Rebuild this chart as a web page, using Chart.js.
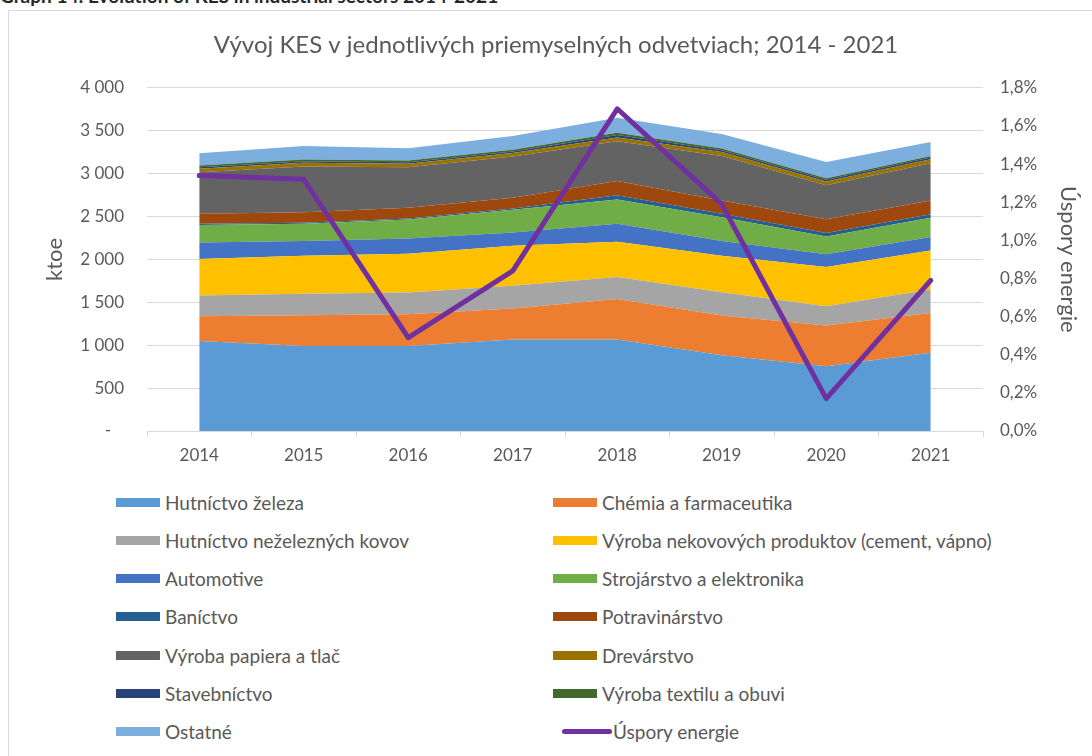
<!DOCTYPE html>
<html>
<head>
<meta charset="utf-8">
<script src="https://cdn.jsdelivr.net/npm/chart.js@4.4.0/dist/chart.umd.min.js"></script>
<style>
  html, body { margin: 0; padding: 0; background: #fff; overflow: hidden; width: 1092px; height: 756px; }
  #caption { position: absolute; left: 0; top: -16px; font: bold 19px Lato, sans-serif; color: #262626; white-space: nowrap; }
  #frame { position: absolute; left: 8px; top: 10px; width: 1200px; height: 900px; border: 1px solid #d9d9d9; }
  #chart { position: absolute; left: 0; top: 0; }
  .item { position: absolute; height: 22px; display: flex; align-items: center; font: 19px Lato, sans-serif; color: #595959; white-space: nowrap; }
  .sw { width: 44px; height: 9px; margin-right: 5px; }
  .ln { width: 50px; height: 5px; border-radius: 3px; margin-right: 1px; }
</style>
</head>
<body>
<div id="caption">Graph 14: Evolution of KES in industrial sectors 2014-2021</div>
<div id="frame"></div>
<canvas id="chart" width="1112" height="480"></canvas>
<div id="legend"></div>
<script>
// -------------------- DATA --------------------
const years = ["2014", "2015", "2016", "2017", "2018", "2019", "2020", "2021"];

const hutnictvoZeleza = [1050, 992, 992, 1066, 1066, 884, 756, 911];
const chemia = [287, 357, 369, 361, 473, 461, 473, 465];
const hutnictvoNezelezne = [241, 252, 252, 267, 256, 272, 225, 272];
const nekovoveProdukty = [426, 442, 453, 466, 411, 426, 457, 457];
const automotive = [194, 170, 179, 154, 209, 170, 148, 155];
const strojarstvo = [202, 202, 221, 264, 283, 279, 209, 225];
const banictvo = [15, 12, 12, 15, 50, 40, 40, 42];
const potravinarstvo = [117, 123, 123, 125, 167, 154, 161, 159];
const papier = [484, 532, 473, 480, 461, 520, 395, 434];
const drevarstvo = [40, 45, 40, 42, 46, 45, 45, 47];
const stavebnictvo = [18, 18, 18, 18, 28, 22, 20, 20];
const textil = [20, 20, 20, 20, 25, 20, 18, 18];
const ostatne = [143, 157, 143, 161, 175, 169, 189, 164];

// Úspory energie, in %
const uspory = [1.34, 1.32, 0.49, 0.84, 1.69, 1.19, 0.17, 0.79];

const sectors = [
  ["Hutníctvo železa", hutnictvoZeleza, "#5B9BD5"],
  ["Chémia a farmaceutika", chemia, "#ED7D31"],
  ["Hutníctvo neželezných kovov", hutnictvoNezelezne, "#A5A5A5"],
  ["Výroba nekovových produktov (cement, vápno)", nekovoveProdukty, "#FFC000"],
  ["Automotive", automotive, "#4472C4"],
  ["Strojárstvo a elektronika", strojarstvo, "#70AD47"],
  ["Baníctvo", banictvo, "#255E91"],
  ["Potravinárstvo", potravinarstvo, "#9E480E"],
  ["Výroba papiera a tlač", papier, "#636363"],
  ["Drevárstvo", drevarstvo, "#997300"],
  ["Stavebníctvo", stavebnictvo, "#264478"],
  ["Výroba textilu a obuvi", textil, "#43682B"],
  ["Ostatné", ostatne, "#7CAFDD"]
];

const FONT = "Lato, sans-serif";
const GREY = "#595959";
const GRID = "#d9d9d9";

// -------------------- CHART --------------------
const datasets = sectors.map(([label, values, color], i) => ({
  label: label,
  data: values,
  backgroundColor: color,
  borderColor: color,
  borderWidth: 0,
  pointRadius: 0,
  fill: i === 0 ? "origin" : "-1",
  yAxisID: "y"
}));

datasets.push({
  label: "Úspory energie",
  data: uspory,
  borderColor: "#7030A0",
  backgroundColor: "#7030A0",
  borderWidth: 5,
  borderCapStyle: "round",
  borderJoinStyle: "round",
  pointRadius: 0,
  fill: false,
  tension: 0,
  yAxisID: "y1",
  order: -1
});

const chart = new Chart(document.getElementById("chart"), {
  type: "line",
  data: { labels: years, datasets: datasets },
  options: {
    responsive: false,
    animation: false,
    layout: { padding: 0 },
    plugins: {
      legend: { display: false },
      tooltip: { enabled: false },
      title: {
        display: true,
        text: "Vývoj KES v jednotlivých priemyselných odvetviach; 2014 - 2021",
        color: GREY,
        font: { family: FONT, size: 24, weight: "normal" },
        padding: { top: 31, bottom: 28 }
      }
    },
    scales: {
      x: {
        offset: true,
        grid: { drawOnChartArea: false, offset: true, tickLength: 6, color: GRID },
        border: { color: GRID },
        ticks: { color: GREY, font: { family: FONT, size: 17 }, padding: 8 },
        afterFit: s => { s.height = 49; }
      },
      y: {
        stacked: true,
        min: 0,
        max: 4000,
        ticks: {
          stepSize: 500,
          color: GREY,
          padding: 23,
          font: { family: FONT, size: 17 },
          callback: v => v === 0 ? "-   " : String(v).replace(/\B(?=(\d{3})+(?!\d))/g, " ")
        },
        grid: { color: GRID, drawTicks: false },
        border: { display: false },
        title: { display: true, text: "ktoe", color: GREY, font: { family: FONT, size: 22 }, padding: { top: 42 } },
        afterFit: s => { s.width = 147; }
      },
      y1: {
        position: "right",
        min: 0,
        max: 1.8,
        ticks: {
          stepSize: 0.2,
          color: GREY,
          padding: 17,
          font: { family: FONT, size: 17 },
          callback: v => v.toFixed(1).replace(".", ",") + "%"
        },
        grid: { drawOnChartArea: false, drawTicks: false },
        border: { display: false },
        title: { display: true, text: "Úspory energie", color: GREY, font: { family: FONT, size: 22 }, padding: { top: 31 } },
        afterFit: s => { s.width = 129; }
      }
    }
  }
});

// -------------------- LEGEND --------------------
const legend = document.getElementById("legend");
const rowY = [502, 540, 578, 616, 655, 693, 731];
chart.data.datasets.forEach((ds, i) => {
  const row = Math.floor(i / 2);
  const right = i % 2 === 1;
  const item = document.createElement("div");
  item.className = "item";
  item.style.top = (rowY[row] - 11) + "px";
  const isLine = ds.yAxisID === "y1";
  item.style.left = (right ? (isLine ? 562 : 553) : 116) + "px";
  const mark = document.createElement("span");
  mark.className = isLine ? "ln" : "sw";
  mark.style.background = isLine ? ds.borderColor : ds.backgroundColor;
  item.appendChild(mark);
  item.appendChild(document.createTextNode(ds.label));
  legend.appendChild(item);
});
</script>
</body>
</html>
